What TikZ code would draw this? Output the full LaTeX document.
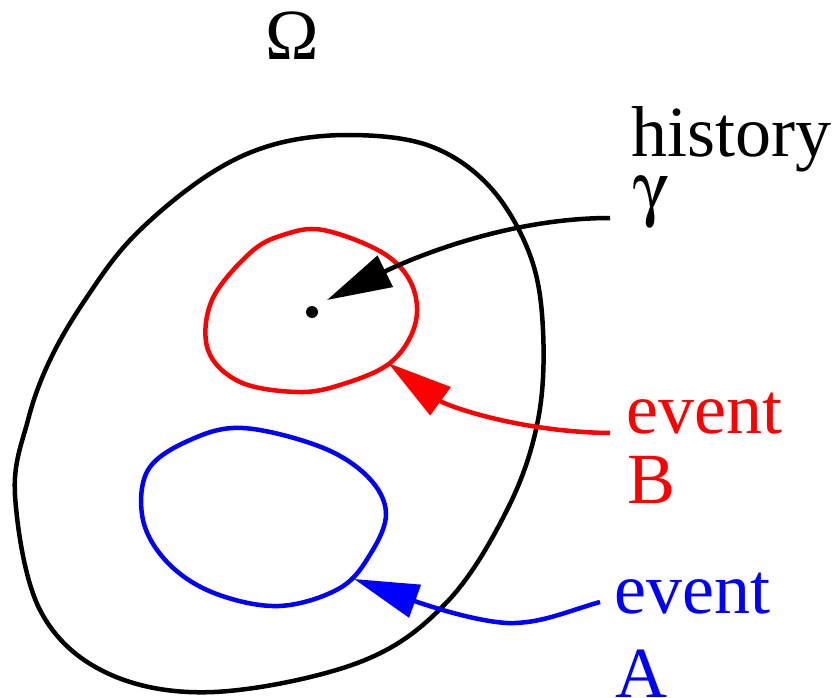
\documentclass[tikz,border=0pt]{standalone}
\usepackage[Symbol]{upgreek}
\usepackage{fontspec}
\setmainfont{Liberation Serif}
\usetikzlibrary{arrows.meta}

\begin{document}
\begin{tikzpicture}[
  x=1pt, y=-1pt,
  font=\fontsize{72}{80}\selectfont,
  label/.style={anchor=base west, inner sep=0pt},
  region/.style={line width=4.5pt},
  pointer/.style={line width=4.5pt, -{Triangle[length=65pt, width=34pt]}}
]
\useasboundingbox (0,0) rectangle (835,698);

% sample space
\draw[region] plot[smooth cycle, tension=0.6] coordinates {
  (350,135) (430,146) (490,187) (530,255) (543,330) (538,420) (508,508)
  (447,602) (360,662) (214,692) (107,673) (40,610) (15,495) (28,420)
  (50,360) (85,300) (133,237) (205,177) (272,145)};
\node[anchor=base] (omega) at (292,60) {Ω};

% events
\draw[region, red] plot[smooth cycle, tension=0.6] coordinates {
  (323,230) (383,253) (412,285) (415,325) (390,363) (340,385) (297,392)
  (240,382) (208,350) (212,300) (250,253) (283,235)};
\draw[region, blue] plot[smooth cycle, tension=0.6] coordinates {
  (243,428) (321,447) (368,477) (386,513) (371,553) (340,588) (279,606)
  (214,593) (168,563) (143,520) (148,470) (190,440)};

% history point
\node[circle, fill, inner sep=0pt, minimum size=12pt] (pt) at (312,312) {};

% labels
\node[label] (hist) at (631,157) {history};
\node[label] (gam) at (633,212) {$\upgamma$};
\node[label, red] (evb) at (626,433) {event};
\node[label, red] (lb) at (627,503) {B};
\node[label, blue] (eva) at (614,613) {event};
\node[label, blue] (la) at (615,697) {A};

\coordinate (hs) at (610,218);
\coordinate (ht) at (327,300);
\coordinate (bs) at (610,433);
\coordinate (bt) at (388,363);
\coordinate (as) at (600,602);
\coordinate (am) at (507,623);
\coordinate (at) at (354,579);

% pointers
\draw[pointer] (hs) .. controls (500,218) and (400,264) .. (ht);
\draw[pointer, red] (bs) .. controls (520,432) and (447,406) .. (bt);
\draw[pointer, blue] (as) .. controls (565,612) and (540,624) .. (am)
  .. controls (472,621) and (420,603) .. (at);
\end{tikzpicture}
\end{document}
